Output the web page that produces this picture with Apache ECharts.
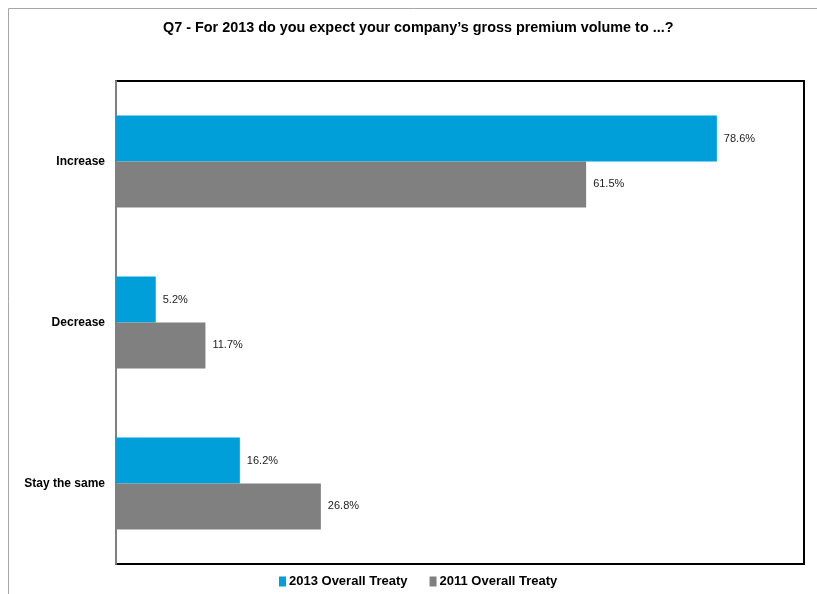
<!DOCTYPE html>
<html>
<head>
<meta charset="utf-8">
<script src="https://cdn.jsdelivr.net/npm/echarts@6/dist/echarts.min.js"></script>
<style>
  html, body { margin: 0; padding: 0; background: #fff; }
  #chart { width: 817px; height: 594px; }
</style>
</head>
<body>
<div id="chart"></div>
<script>
// Survey answers and the share of respondents for each survey year
const categories = ['Increase', 'Decrease', 'Stay the same'];
const seriesNames = ['2013 Overall Treaty', '2011 Overall Treaty'];
const values2013 = [78.6, 5.2, 16.2];
const values2011 = [61.5, 11.7, 26.8];

const chart = echarts.init(document.getElementById('chart'), null, { renderer: 'canvas' });

const FONT = 'Liberation Sans, Arial, sans-serif';

const labelStyle = {
  show: true,
  position: 'right',
  distance: 7,
  color: '#222',
  fontFamily: FONT,
  fontSize: 11,
  formatter: p => p.value.toFixed(1) + '%'
};

chart.setOption({
  animation: false,
  backgroundColor: '#fff',
  graphic: [{
    type: 'rect',
    shape: { x: 8.5, y: 8.5, width: 900, height: 700 },
    style: { fill: 'none', stroke: '#a6a6a6', lineWidth: 1 },
    silent: true
  }],
  title: {
    text: 'Q7 - For 2013 do you expect your company\u2019s gross premium volume to ...?',
    left: 158,
    top: 16,
    textStyle: {
      fontFamily: FONT,
      fontSize: 14.4,
      fontWeight: 'bold',
      color: '#000'
    }
  },
  legend: {
    bottom: 1,
    left: 274,
    itemWidth: 7,
    itemHeight: 10,
    itemGap: 22,
    icon: 'rect',
    textStyle: {
      fontFamily: FONT,
      fontSize: 13,
      fontWeight: 'bold',
      color: '#000',
      padding: [0, 0, 0, -2]
    },
    data: seriesNames
  },
  grid: {
    left: 116,
    top: 81,
    width: 688,
    height: 483,
    show: true,
    borderColor: '#000',
    borderWidth: 2,
    backgroundColor: 'transparent'
  },
  xAxis: {
    type: 'value',
    min: 0,
    max: 90,
    axisLine: { show: false },
    axisTick: { show: false },
    axisLabel: { show: false },
    splitLine: { show: false }
  },
  yAxis: {
    type: 'category',
    inverse: true,
    data: categories,
    axisLine: { show: true, lineStyle: { color: '#808080', width: 2 } },
    axisTick: { show: false },
    axisLabel: {
      margin: 11,
      fontFamily: FONT,
      fontSize: 12,
      fontWeight: 'bold',
      color: '#000'
    }
  },
  series: [
    {
      name: seriesNames[0],
      type: 'bar',
      data: values2013,
      barGap: '0%',
      barCategoryGap: '43%',
      itemStyle: { color: '#009fda' },
      label: labelStyle
    },
    {
      name: seriesNames[1],
      type: 'bar',
      data: values2011,
      barGap: '0%',
      barCategoryGap: '43%',
      itemStyle: { color: '#808080' },
      label: labelStyle
    }
  ]
});
</script>
</body>
</html>
